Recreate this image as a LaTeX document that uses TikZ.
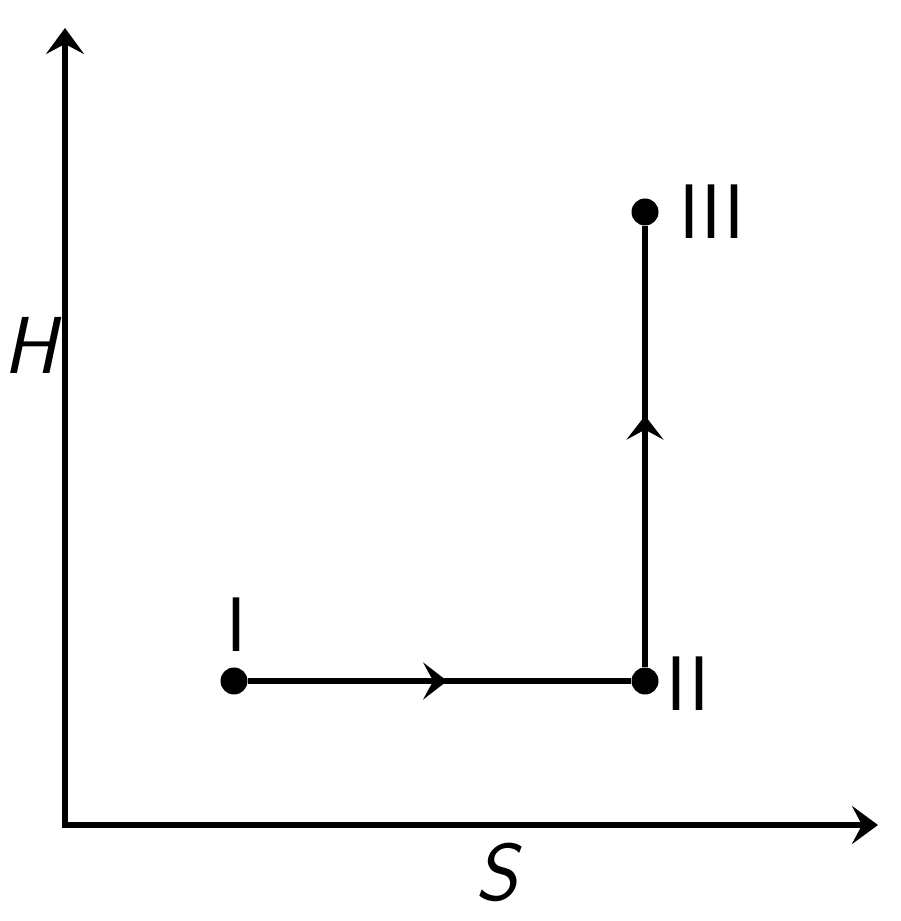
\documentclass[tikz,border=0pt]{standalone}
\usepackage{tikz}
\usetikzlibrary{arrows.meta,decorations.markings}
\tikzset{
  axis/.style={draw=black, line width=1.5pt, {Stealth[length=0.26cm,width=0.38cm,inset=0.1cm]}-{Stealth[length=0.26cm,width=0.38cm,inset=0.1cm]}},
  pathline/.style={draw=black, line width=1.5pt},
  midarrow/.style={postaction={decorate}, decoration={markings,
    mark=at position #1 with {\arrow{Stealth[length=0.24cm,width=0.37cm,inset=0.1cm]}}}},
  dot/.style={circle, fill=black, inner sep=0pt, minimum size=0.27cm},
  lab/.style={font=\fontsize{22}{26}\selectfont\sffamily, inner sep=0pt},
}
\begin{document}
\begin{tikzpicture}
\useasboundingbox (0,0) rectangle (9,9.21);
% axes
\coordinate (o) at (0.65,0.96);
\coordinate (ytop) at (0.65,8.93);
\coordinate (xend) at (8.78,0.96);
\draw[axis] (ytop) -- (o) -- (xend);
\node[lab, font=\fontsize{23}{27}\selectfont\sffamily\slshape] (hlab) at (0.30,5.76) {H};
\node[lab, font=\fontsize{23}{27}\selectfont\sffamily\slshape] (slab) at (4.97,0.49) {S};

% states
\node[dot] (p1) at (2.34,2.40) {};
\node[dot] (p2) at (6.45,2.40) {};
\node[dot] (p3) at (6.45,7.09) {};
\node[lab] (l1) at (2.37,2.96) {I};
\node[lab] (l2) at (6.88,2.37) {II};
\node[lab] (l3) at (7.12,7.09) {III};

\draw[pathline, midarrow=0.52] (p1) -- (p2);
\draw[pathline, midarrow=0.57] (p2) -- (p3);
\end{tikzpicture}
\end{document}
